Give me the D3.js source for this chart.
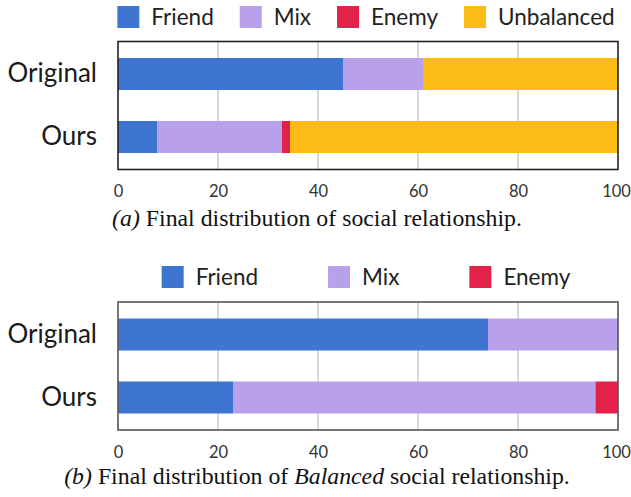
<!DOCTYPE html>
<html>
<head>
<meta charset="utf-8">
<script src="https://cdn.jsdelivr.net/npm/d3@7"></script>
<style>
  html, body { margin: 0; padding: 0; background: #fff; }
  svg { display: block; }
</style>
</head>
<body>
<svg id="chart" width="631" height="497"></svg>
<script>
// ---- Data ----
const categories = ["Original", "Ours"];
const ticks = [0, 20, 40, 60, 80, 100];

// Panel (a)
const seriesA = ["Friend", "Mix", "Enemy", "Unbalanced"];
const friendA = [45, 7.8];
const mixA = [16, 25];
const enemyA = [0, 1.6];
const unbalancedA = [39, 65.6];

// Panel (b)
const seriesB = ["Friend", "Mix", "Enemy"];
const friendB = [74, 23];
const mixB = [26, 72.5];
const enemyB = [0, 4.5];

const colors = { Friend: "#3D75D0", Mix: "#B8A0EA", Enemy: "#E22248", Unbalanced: "#FDBB17" };

const svg = d3.select("#chart");

function drawPanel(opts) {
  const { keys, values, top, frameStroke, legendY, legendGap, captionY, captionParts } = opts;
  const x = d3.scaleLinear().domain([0, 100]).range([118, 618]);
  const y = d3.scaleBand().domain(categories).range([top, top + 128])
    .paddingInner(0.492).paddingOuter(0.262);

  const rows = categories.map((c, i) => {
    const r = { cat: c };
    keys.forEach(k => { r[k] = values[k][i]; });
    return r;
  });
  const stacked = d3.stack().keys(keys)(rows);

  const g = svg.append("g");

  // gridlines
  g.append("g").selectAll("line").data(ticks.filter(t => t > 0 && t < 100)).join("line")
    .attr("x1", d => x(d)).attr("x2", d => x(d))
    .attr("y1", top).attr("y2", top + 128)
    .attr("stroke", "#cfcfcf").attr("stroke-width", 1.6);

  // bars
  g.append("g").selectAll("g").data(stacked).join("g")
    .attr("fill", d => colors[d.key])
    .selectAll("rect").data(d => d).join("rect")
    .attr("x", d => x(d[0]))
    .attr("width", d => Math.max(0, x(d[1]) - x(d[0])))
    .attr("y", d => y(d.data.cat))
    .attr("height", y.bandwidth());

  // frame
  g.append("rect")
    .attr("x", x(0)).attr("y", top)
    .attr("width", x(100) - x(0)).attr("height", 128)
    .attr("fill", "none").attr("stroke", frameStroke).attr("stroke-width", 1.6);

  // x axis labels
  const xAxis = d3.axisBottom(x).tickValues(ticks).tickSize(0).tickPadding(0);
  const ax = g.append("g").attr("transform", `translate(0,${top + 128 + 16})`).call(xAxis);
  ax.select(".domain").remove();
  ax.selectAll("text")
    .attr("font-family", "Lato, 'Open Sans', sans-serif")
    .attr("font-size", 16.5).attr("fill", "#333")
    .attr("dx", d => d === 100 ? -2 : 0);

  // y axis labels
  const yAxis = d3.axisLeft(y).tickSize(0).tickPadding(0);
  const ay = g.append("g").attr("transform", `translate(97,0)`).call(yAxis);
  ay.select(".domain").remove();
  ay.selectAll("text")
    .attr("font-family", "Lato, 'Open Sans', sans-serif")
    .attr("font-size", 26).attr("fill", "#1a1a1a");

  // legend
  const lg = g.append("g");
  const items = lg.selectAll("g").data(keys).join("g");
  items.append("rect").attr("width", 22).attr("height", 22).attr("y", legendY - 11)
    .attr("fill", d => colors[d]);
  items.append("text").attr("x", 34).attr("y", legendY).attr("dy", "0.35em")
    .attr("font-family", "Lato, 'Open Sans', sans-serif")
    .attr("font-size", 22.5).attr("fill", "#222")
    .text(d => d);
  let cur = 0;
  const widths = [];
  items.each(function () {
    const w = 34 + this.querySelector("text").getComputedTextLength();
    widths.push(w);
  });
  const total = d3.sum(widths) + legendGap * (keys.length - 1);
  cur = 366 - total / 2;
  items.each(function (d, i) {
    d3.select(this).attr("transform", `translate(${cur},0)`);
    cur += widths[i] + legendGap;
  });

  // caption
  const cap = g.append("text").attr("x", 317).attr("y", captionY)
    .attr("text-anchor", "middle")
    .attr("font-family", "'Liberation Serif', 'Times New Roman', serif")
    .attr("font-size", 23.8).attr("fill", "#111");
  captionParts.forEach(p => {
    cap.append("tspan").attr("font-style", p.italic ? "italic" : "normal").text(p.t);
  });
}

drawPanel({
  keys: seriesA,
  values: { Friend: friendA, Mix: mixA, Enemy: enemyA, Unbalanced: unbalancedA },
  top: 41.5, frameStroke: "#222", legendY: 17, legendGap: 26, captionY: 226,
  captionParts: [{ t: "(a)", italic: true }, { t: " Final distribution of social relationship." }]
});

drawPanel({
  keys: seriesB,
  values: { Friend: friendB, Mix: mixB, Enemy: enemyB },
  top: 302, frameStroke: "#555", legendY: 277, legendGap: 70, captionY: 484,
  captionParts: [{ t: "(b)", italic: true }, { t: " Final distribution of " }, { t: "Balanced", italic: true }, { t: " social relationship." }]
});
</script>
</body>
</html>
